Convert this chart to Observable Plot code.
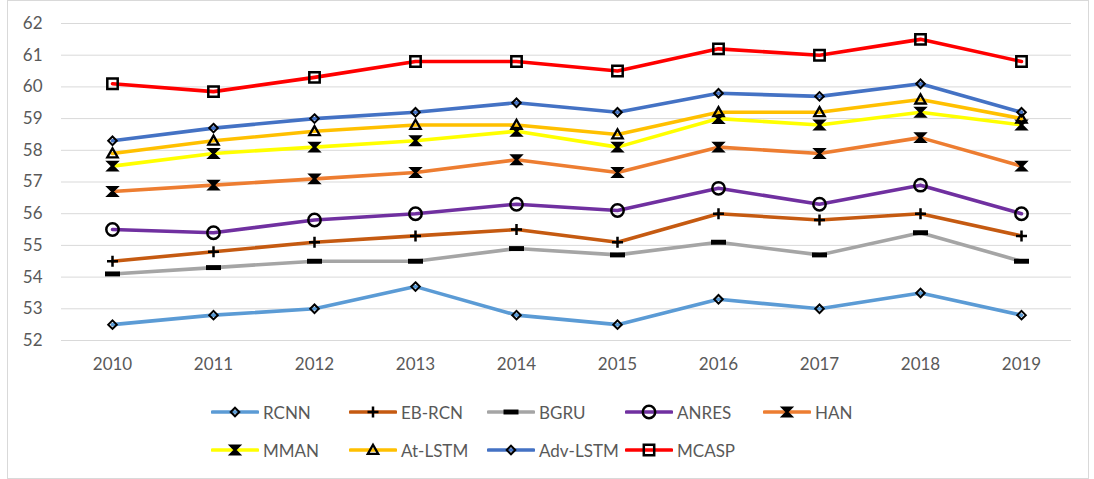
<!DOCTYPE html>
<html>
<head>
<meta charset="utf-8">
<script src="https://cdn.jsdelivr.net/npm/d3@7"></script>
<script src="https://cdn.jsdelivr.net/npm/@observablehq/plot@0.6"></script>
<style>
  html, body { margin: 0; padding: 0; background: #fff; }
  #wrap { position: relative; width: 1094px; height: 479px; overflow: hidden; font-family: Lato, "Noto Sans", sans-serif; }
  #frame { position: absolute; left: 7px; top: 0px; width: 1082px; height: 479px; border: 1px solid #D9D9D9; box-sizing: border-box; pointer-events: none; }
  #chart { position: absolute; left: 0; top: 0; }
  #legend { position: absolute; left: 211px; top: 393px; display: grid; grid-template-columns: repeat(5, 138px); grid-auto-rows: 38px; align-items: center; }
  .item { display: flex; align-items: center; font-size: 17px; color: #595959; white-space: nowrap; }
  .item svg { display: block; margin-right: 4px; }
</style>
</head>
<body>
<div id="wrap">
  <div id="chart"></div>
  <div id="legend"></div>
  <div id="frame"></div>
</div>
<script>
const years = [2010, 2011, 2012, 2013, 2014, 2015, 2016, 2017, 2018, 2019];
const seriesNames = ["RCNN", "EB-RCN", "BGRU", "ANRES", "HAN", "MMAN", "At-LSTM", "Adv-LSTM", "MCASP"];
const RCNN     = [52.5, 52.8, 53.0, 53.7, 52.8, 52.5, 53.3, 53.0, 53.5, 52.8];
const EB_RCN   = [54.5, 54.8, 55.1, 55.3, 55.5, 55.1, 56.0, 55.8, 56.0, 55.3];
const BGRU     = [54.1, 54.3, 54.5, 54.5, 54.9, 54.7, 55.1, 54.7, 55.4, 54.5];
const ANRES    = [55.5, 55.4, 55.8, 56.0, 56.3, 56.1, 56.8, 56.3, 56.9, 56.0];
const HAN      = [56.7, 56.9, 57.1, 57.3, 57.7, 57.3, 58.1, 57.9, 58.4, 57.5];
const MMAN     = [57.5, 57.9, 58.1, 58.3, 58.6, 58.1, 59.0, 58.8, 59.2, 58.8];
const AT_LSTM  = [57.9, 58.3, 58.6, 58.8, 58.8, 58.5, 59.2, 59.2, 59.6, 59.0];
const ADV_LSTM = [58.3, 58.7, 59.0, 59.2, 59.5, 59.2, 59.8, 59.7, 60.1, 59.2];
const MCASP    = [60.1, 59.85, 60.3, 60.8, 60.8, 60.5, 61.2, 61.0, 61.5, 60.8];
const yTicks = [52, 53, 54, 55, 56, 57, 58, 59, 60, 61, 62];

const seriesValues = [RCNN, EB_RCN, BGRU, ANRES, HAN, MMAN, AT_LSTM, ADV_LSTM, MCASP];
const colors = ["#5B9BD5", "#C55A11", "#A5A5A5", "#7030A0", "#ED7D31", "#FFFF00", "#FFC000", "#4472C4", "#FF0000"];

// custom marker symbols (size = PI * r^2)
const rad = s => Math.sqrt(s / Math.PI);
const symDiamond = { draw(c, s) { const r = rad(s); c.moveTo(0, -r); c.lineTo(r, 0); c.lineTo(0, r); c.lineTo(-r, 0); c.closePath(); } };
const symPlus = { draw(c, s) { const r = rad(s); c.moveTo(-r, 0); c.lineTo(r, 0); c.moveTo(0, -r); c.lineTo(0, r); } };
const symDash = { draw(c, s) { const r = rad(s); c.rect(-r, -r * 0.33, 2 * r, r * 0.66); } };
const symCircle = { draw(c, s) { const r = rad(s); c.moveTo(r, 0); c.arc(0, 0, r, 0, 2 * Math.PI); c.closePath(); } };
const symStar = { draw(c, s) { const r = rad(s); c.moveTo(-r, -r); c.lineTo(r, -r); c.lineTo(-r, r); c.lineTo(r, r); c.closePath(); c.moveTo(0, -r); c.lineTo(0, r); } };
const symTriangle = { draw(c, s) { const r = rad(s); c.moveTo(0, -r); c.lineTo(r * 1.0, r * 0.75); c.lineTo(-r * 1.0, r * 0.75); c.closePath(); } };
const symSquare = { draw(c, s) { const r = rad(s); c.rect(-r, -r, 2 * r, 2 * r); } };

const markers = [
  { symbol: symDiamond, r: 4.3, fill: "none", stroke: "black", sw: 2 },
  { symbol: symPlus, r: 5.5, fill: "none", stroke: "black", sw: 2.5 },
  { symbol: symDash, r: 7.5, fill: "black", stroke: "none", sw: 0 },
  { symbol: symCircle, r: 6.2, fill: "none", stroke: "black", sw: 2.5 },
  { symbol: symStar, r: 4.2, fill: "none", stroke: "black", sw: 2.5 },
  { symbol: symStar, r: 4.2, fill: "none", stroke: "black", sw: 2.5 },
  { symbol: symTriangle, r: 5.2, fill: "none", stroke: "black", sw: 2.3 },
  { symbol: symDiamond, r: 4.3, fill: "none", stroke: "black", sw: 2 },
  { symbol: symSquare, r: 5.2, fill: "none", stroke: "black", sw: 2.5 }
];

const data = seriesNames.map((name, i) => years.map((yr, j) => ({ series: name, year: yr, value: seriesValues[i][j] })));

const marks = [
  Plot.gridY(yTicks, { stroke: "#D9D9D9", strokeOpacity: 1, strokeWidth: 1 }),
  Plot.axisY(yTicks, { tickSize: 0, tickPadding: 19, label: null, fill: "#595959", fontSize: 17 }),
  Plot.axisX({ tickSize: 0, tickPadding: 17, label: null, fill: "#595959", fontSize: 17, tickFormat: d => String(d) })
];
data.forEach((rows, i) => {
  marks.push(Plot.line(rows, { x: "year", y: "value", stroke: colors[i], strokeWidth: 3.6, strokeLinejoin: "round", strokeLinecap: "round" }));
  const m = markers[i];
  marks.push(Plot.dot(rows, { x: "year", y: "value", symbol: m.symbol, r: m.r, fill: m.fill, stroke: m.stroke, strokeWidth: m.sw }));
});

const chart = Plot.plot({
  width: 1094,
  height: 390,
  marginLeft: 61,
  marginRight: 23,
  marginTop: 23,
  marginBottom: 50,
  style: { fontFamily: "Lato, 'Noto Sans', sans-serif", fontSize: "17px", color: "#595959", background: "transparent" },
  x: { type: "point", domain: years, padding: 0.5 },
  y: { domain: [52, 62] },
  marks
});
document.getElementById("chart").appendChild(chart);

// legend
const legend = document.getElementById("legend");
seriesNames.forEach((name, i) => {
  const m = markers[i];
  const p = d3.path();
  m.symbol.draw(p, Math.PI * m.r * m.r);
  const item = document.createElement("div");
  item.className = "item";
  item.innerHTML =
    `<svg width="48" height="18" viewBox="0 0 48 18">` +
    `<line x1="1.5" y1="9" x2="46.5" y2="9" stroke="${colors[i]}" stroke-width="3.6" stroke-linecap="round"/>` +
    `<path transform="translate(24,9)" d="${p.toString()}" fill="${m.fill}" stroke="${m.stroke}" stroke-width="${m.sw}"/>` +
    `</svg><span>${name}</span>`;
  legend.appendChild(item);
});
</script>
</body>
</html>
